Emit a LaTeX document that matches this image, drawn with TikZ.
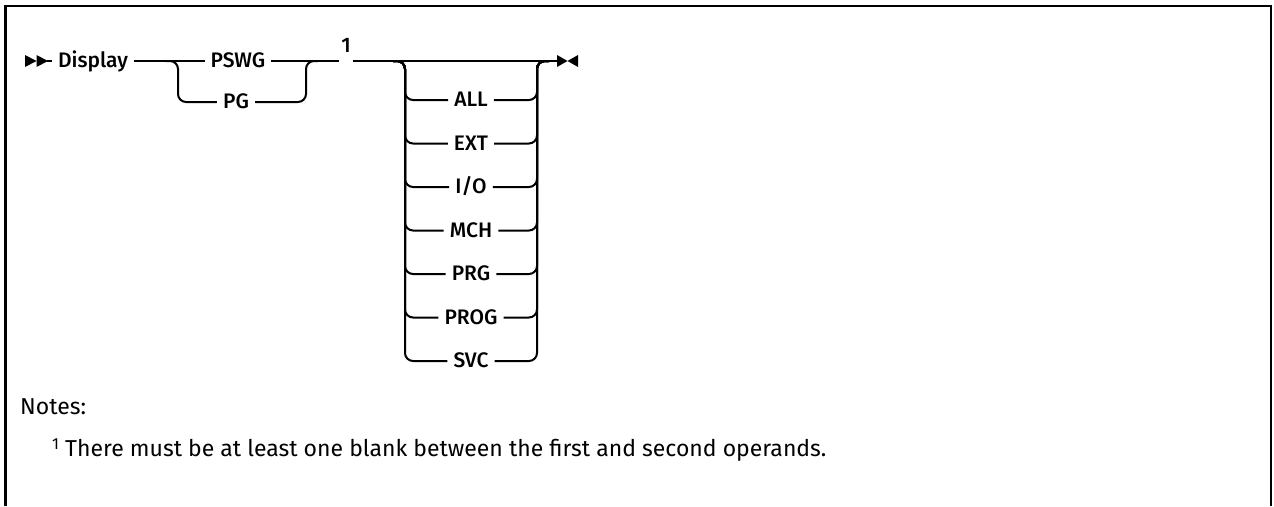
\documentclass[tikz,border=0pt]{standalone}
\usepackage{fontspec}
\setmainfont{Fira Sans}
\newfontfamily\railfont{Fira Sans Medium}
\usetikzlibrary{positioning}

\tikzset{
  rail/.style={line width=2pt, rounded corners=8pt},
  kw/.style={font=\railfont\fontsize{21}{21}\selectfont, inner xsep=6pt, inner ysep=0pt,
             text height=16pt, text depth=3pt},
  notetext/.style={font=\fontsize{23}{23}\selectfont, inner sep=0pt, anchor=base west}
}

\begin{document}
\begin{tikzpicture}[x=1pt, y=-1pt]
  \useasboundingbox (0,0) rectangle (1274,506);
  % frame, open at the bottom
  \draw[line width=2.5pt] (5.5,506) -- (5.5,6) -- (1271,6) -- (1271,506);

  % start and end marks
  \fill (25,55) -- (36.5,61) -- (25,67) -- cycle;
  \fill (36.5,55) -- (48,61) -- (36.5,67) -- cycle;
  \fill (557,55) -- (567.5,61) -- (557,67) -- cycle;
  \fill (578,55) -- (567.5,61) -- (578,67) -- cycle;
  \coordinate (start) at (47,61);
  \coordinate (stop) at (558,61);

  \coordinate (s1) at (178,61); \coordinate (j1) at (306,61);
  \coordinate (s2) at (405,61); \coordinate (j2) at (537,61);

  \node[kw] (disp) at (93,61) {Display};
  \node[kw] (pswg) at (238,61) {PSWG};
  \node[kw] (pg) at (236,102) {PG};
  \node[inner sep=0pt, minimum width=13pt,
        label={[font=\railfont\fontsize{21}{21}\selectfont, inner sep=0pt, label distance=8pt]above:1}] (n1) at (346,61) {};

  \draw[rail] (start) -- (disp.west) (disp.east) -- (pswg.west)
              (pswg.east) -- (n1.west) (n1.east) -- (stop);
  \draw[rail] ([xshift=-12pt]s1) -- (s1) |- (pg.west);
  \draw[rail] (pg.east) -| (j1) -- ([xshift=12pt]j1);

  \foreach \w [count=\i] in {ALL,EXT,I/O,MCH,PRG,PROG,SVC} {
    \node[kw] (opt\i) at (471,{56.5+43.5*\i}) {\w};
    \draw[rail] ([xshift=-12pt]s2) -- (s2) |- (opt\i.west);
    \draw[rail] (opt\i.east) -| (j2) -- ([xshift=12pt]j2);
  }

  \node[notetext] (notes) at (20,414) {Notes:};
  \node[notetext] (fn) at (52,456) {\raisebox{7pt}{\fontsize{16}{16}\selectfont 1} There must be at least one blank between the first and second operands.};
\end{tikzpicture}
\end{document}
